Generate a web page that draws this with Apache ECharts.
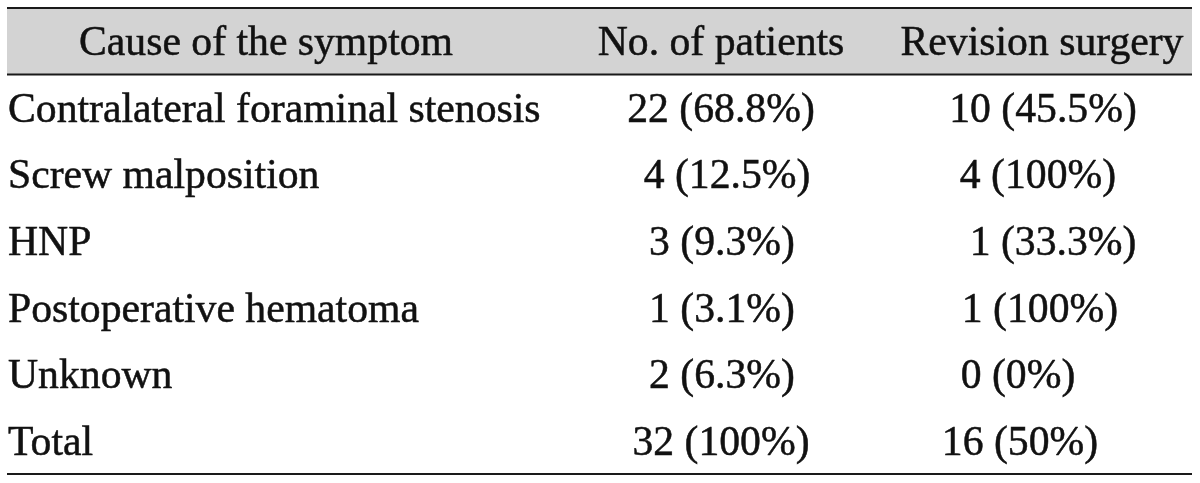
<!DOCTYPE html>
<html>
<head>
<meta charset="utf-8">
<script src="https://cdn.jsdelivr.net/npm/echarts@6/dist/echarts.min.js"></script>
<style>
html,body{margin:0;padding:0;background:#fff;}
#chart{width:1200px;height:483px;}
</style>
</head>
<body>
<div id="chart"></div>
<script>
// ---- data ----
var headers = ['Cause of the symptom', 'No. of patients', 'Revision surgery'];
var causes = ['Contralateral foraminal stenosis', 'Screw malposition', 'HNP', 'Postoperative hematoma', 'Unknown', 'Total'];
var patients = ['22 (68.8%)', '4 (12.5%)', '3 (9.3%)', '1 (3.1%)', '2 (6.3%)', '32 (100%)'];
var revision = ['10 (45.5%)', '4 (100%)', '1 (33.3%)', '1 (100%)', '0 (0%)', '16 (50%)'];

// ---- layout (positions/styles only) ----
var rowKeys = ['header', 'r0', 'r1', 'r2', 'r3', 'r4', 'r5'];
var col1X = 8;
var col1HeaderX = 266;
var col2X = [721, 721, 727, 722, 722, 722, 721];
var col3X = [1042, 1043, 1038, 1053, 1040, 1018, 1020];
var FONT = '"Liberation Serif", "Times New Roman", serif';
var FS = 41.7;
var TXT = '#111';
var TEXT_DY = 3;

var cells = [];
rowKeys.forEach(function (k, i) {
  var c1 = i === 0 ? headers[0] : causes[i - 1];
  var c2 = i === 0 ? headers[1] : patients[i - 1];
  var c3 = i === 0 ? headers[2] : revision[i - 1];
  if (i === 0) {
    cells.push([col1HeaderX, k, c1, 'center']);
  } else {
    cells.push([col1X, k, c1, 'left']);
  }
  cells.push([col2X[i], k, c2, 'center']);
  cells.push([col3X[i], k, c3, 'center']);
});

var chart = echarts.init(document.getElementById('chart'), null, {renderer: 'canvas'});
chart.setOption({
  animation: false,
  grid: {left: 7, right: 8, top: 8, bottom: 9, containLabel: false},
  xAxis: {type: 'value', min: 7, max: 1192, show: false},
  yAxis: {type: 'category', data: rowKeys, inverse: true, show: false, boundaryGap: true},
  series: [
    {
      // header band + rules
      type: 'custom',
      coordinateSystem: 'cartesian2d',
      data: [[7, 'header']],
      renderItem: function (params, api) {
        var cs = params.coordSys;
        var p = api.coord([api.value(0), 'header']);
        var h = api.size([0, 1])[1];
        var top = p[1] - h / 2;
        var bot = p[1] + h / 2;
        var last = api.coord([api.value(0), 'r5']);
        var tableBottom = last[1] + h / 2;
        return {
          type: 'group',
          children: [
            {type: 'rect', shape: {x: cs.x, y: top, width: cs.width, height: h}, style: {fill: '#d3d3d3'}},
            {type: 'line', shape: {x1: cs.x, y1: top, x2: cs.x + cs.width, y2: top}, style: {stroke: '#1a1a1a', lineWidth: 2}},
            {type: 'line', shape: {x1: cs.x, y1: bot, x2: cs.x + cs.width, y2: bot}, style: {stroke: '#1a1a1a', lineWidth: 2}},
            {type: 'line', shape: {x1: cs.x, y1: tableBottom, x2: cs.x + cs.width, y2: tableBottom}, style: {stroke: '#1a1a1a', lineWidth: 2}}
          ]
        };
      },
      silent: true,
      z: 1
    },
    {
      type: 'custom',
      coordinateSystem: 'cartesian2d',
      data: cells,
      encode: {x: 0, y: 1},
      renderItem: function (params, api) {
        var d = cells[params.dataIndex];
        var p = api.coord([d[0], d[1]]);
        return {
          type: 'text',
          x: p[0],
          y: p[1] + TEXT_DY,
          style: {
            text: d[2],
            font: FS + 'px ' + FONT,
            fill: TXT,
            stroke: TXT,
            lineWidth: 0.5,
            align: d[3],
            verticalAlign: 'middle'
          }
        };
      },
      silent: true,
      z: 2
    }
  ]
});
</script>
</body>
</html>
